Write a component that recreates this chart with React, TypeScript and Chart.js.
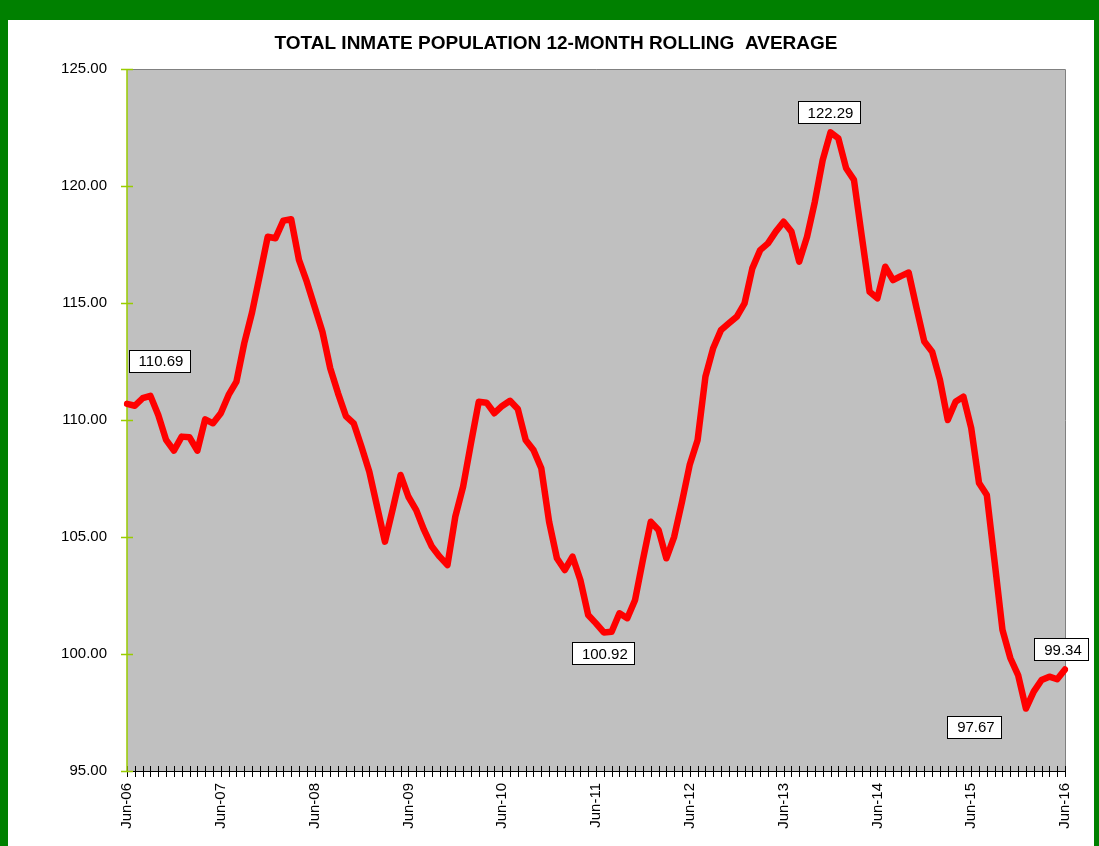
import React, { useEffect, useRef } from "react";
import { Chart, registerables } from "chart.js";

Chart.register(...registerables);

const TITLE = "TOTAL INMATE POPULATION 12-MONTH ROLLING  AVERAGE";
const MONTH_NAMES = ["Jun", "Jul", "Aug", "Sep", "Oct", "Nov", "Dec", "Jan", "Feb", "Mar", "Apr", "May"];
const START_YEAR = 2006;
const MONTH_COUNT = 121;

// 12-month rolling average, Jun-06 .. Jun-16
const rollingAverage = [
  110.69, 110.61, 110.93, 111.03, 110.21, 109.15, 108.69, 109.29, 109.26, 108.69, 110.03, 109.86,
  110.29, 111.07, 111.64, 113.28, 114.6, 116.2, 117.83, 117.77, 118.52, 118.58, 116.84, 115.91,
  114.84, 113.77, 112.21, 111.14, 110.17, 109.86, 108.86, 107.79, 106.29, 104.8, 106.2, 107.65,
  106.72, 106.15, 105.3, 104.59, 104.16, 103.8, 105.87, 107.15, 109.0, 110.78, 110.74, 110.29,
  110.6, 110.82, 110.47, 109.15, 108.72, 107.94, 105.65, 104.09, 103.59, 104.16, 103.16, 101.67,
  101.31, 100.92, 100.95, 101.74, 101.53, 102.31, 104.02, 105.65, 105.3, 104.09, 105.01, 106.5,
  108.1, 109.15, 111.85, 113.08, 113.85, 114.13, 114.41, 114.98, 116.48, 117.26, 117.55, 118.05,
  118.47, 118.05, 116.77, 117.83, 119.33, 121.11, 122.29, 122.04, 120.76, 120.26, 117.86, 115.48,
  115.2, 116.55, 115.98, 116.15, 116.3, 114.8, 113.35, 112.92, 111.71, 110.0, 110.78, 111.0,
  109.66, 107.31, 106.79, 103.93, 101.03, 99.83, 99.1, 97.67, 98.39, 98.89, 99.03, 98.92,
  99.34,
];

const Y_MIN = 95;
const Y_MAX = 125;
const Y_STEP = 5;

// indices of points that carry a value label
const labelIndices = [0, 61, 90, 115, 120];
// label box centre offsets (px) from the point
const labelOffsets: [number, number][] = [
  [32, -43],
  [-1, 21],
  [-2, -20],
  [-52, 18],
  [-4, -20],
];

function buildCategories(): string[] {
  const out: string[] = [];
  for (let i = 0; i < MONTH_COUNT; i++) {
    const name = MONTH_NAMES[i % 12];
    const year = START_YEAR + Math.floor((i + 5) / 12);
    out.push(name + "-" + String(year % 100).padStart(2, "0"));
  }
  return out;
}

const categories = buildCategories();

const FONT = "'Liberation Sans', Arial, sans-serif";

const decorPlugin = {
  id: "decor",
  beforeDatasetsDraw(chart: any) {
    const { ctx, chartArea } = chart;
    const { left, top, right, bottom } = chartArea;
    ctx.save();
    ctx.fillStyle = "#C0C0C0";
    ctx.fillRect(left, top, right - left, bottom - top);
    ctx.strokeStyle = "#808080";
    ctx.lineWidth = 1;
    ctx.beginPath();
    ctx.moveTo(left, top + 0.5);
    ctx.lineTo(right + 0.5, top + 0.5);
    ctx.lineTo(right + 0.5, bottom);
    ctx.stroke();
    // x axis
    const xs = chart.scales.x;
    ctx.strokeStyle = "#000000";
    ctx.beginPath();
    ctx.moveTo(left, bottom + 0.5);
    ctx.lineTo(right + 1, bottom + 0.5);
    for (let i = 0; i < xs.ticks.length; i++) {
      const px = Math.round(xs.getPixelForTick(i)) + 0.5;
      ctx.moveTo(px, bottom - 5);
      ctx.lineTo(px, bottom + 6);
    }
    ctx.stroke();
    // y axis
    const ys = chart.scales.y;
    ctx.strokeStyle = "#99CC00";
    ctx.lineWidth = 1.5;
    ctx.beginPath();
    ctx.moveTo(left, top);
    ctx.lineTo(left, bottom);
    for (let i = 0; i < ys.ticks.length; i++) {
      const py = Math.round(ys.getPixelForTick(i)) + 0.5;
      ctx.moveTo(left - 6, py);
      ctx.lineTo(left + 6, py);
    }
    ctx.stroke();
    // title
    ctx.fillStyle = "#000000";
    ctx.font = "bold 19px " + FONT;
    ctx.textAlign = "center";
    ctx.textBaseline = "middle";
    ctx.fillText(TITLE, (left + right) / 2 - 40, 24);
    ctx.restore();
  },
  afterDatasetsDraw(chart: any) {
    const { ctx } = chart;
    const meta = chart.getDatasetMeta(0);
    ctx.save();
    ctx.font = "15px " + FONT;
    ctx.textBaseline = "middle";
    ctx.textAlign = "center";
    labelIndices.forEach((idx, k) => {
      const pt = meta.data[idx];
      const text = rollingAverage[idx].toFixed(2);
      const tw = ctx.measureText(text).width;
      const w = Math.round(tw + 16);
      const h = 22;
      const cx = pt.x + labelOffsets[k][0];
      const cy = pt.y + labelOffsets[k][1];
      const x0 = Math.round(cx - w / 2) + 0.5;
      const y0 = Math.round(cy - h / 2) + 0.5;
      ctx.fillStyle = "#FFFFFF";
      ctx.fillRect(x0, y0, w, h);
      ctx.strokeStyle = "#000000";
      ctx.lineWidth = 1;
      ctx.strokeRect(x0, y0, w, h);
      ctx.fillStyle = "#000000";
      ctx.fillText(text, cx + 2, cy + 1);
    });
    ctx.restore();
  },
};

export default function App() {
  const canvasRef = useRef<HTMLCanvasElement | null>(null);

  useEffect(() => {
    const canvas = canvasRef.current;
    if (!canvas) return;
    const chart = new Chart(canvas, {
      type: "line",
      data: {
        labels: categories,
        datasets: [
          {
            data: rollingAverage,
            borderColor: "#FF0000",
            borderWidth: 6.5,
            pointRadius: 0,
            tension: 0,
            fill: false,
            borderJoinStyle: "round",
            borderCapStyle: "round",
          },
        ],
      },
      options: {
        animation: false,
        responsive: false,
        maintainAspectRatio: false,
        layout: { padding: { left: 0, right: 29, top: 49, bottom: 0 } },
        plugins: {
          legend: { display: false },
          tooltip: { enabled: false },
          title: { display: false },
        },
        scales: {
          x: {
            type: "category",
            offset: false,
            grid: { display: false },
            border: { display: false },
            afterFit(scale: any) {
              scale.height = 75;
            },
            ticks: {
              autoSkip: false,
              minRotation: 90,
              maxRotation: 90,
              padding: 4,
              color: "#000000",
              font: { family: FONT, size: 15 },
              callback: (_v: any, i: number) => (i % 12 === 0 ? categories[i] : ""),
            },
          },
          y: {
            min: Y_MIN,
            max: Y_MAX,
            grid: { display: false },
            border: { display: false },
            afterFit(scale: any) {
              scale.width = 119;
            },
            ticks: {
              stepSize: Y_STEP,
              padding: 12,
              color: "#000000",
              font: { family: FONT, size: 15 },
              callback: (v: any) => Number(v).toFixed(2),
            },
          },
        },
      },
      plugins: [decorPlugin],
    });
    return () => chart.destroy();
  }, []);

  return (
    <div
      style={{
        position: "fixed",
        left: 0,
        top: 0,
        width: 1099,
        height: 846,
        background: "#008000",
        overflow: "hidden",
      }}
    >
      <div
        style={{
          position: "absolute",
          left: 8,
          top: 20,
          width: 1086,
          height: 826,
          background: "#FFFFFF",
        }}
      >
        <canvas ref={canvasRef} width={1086} height={826} style={{ display: "block" }} />
      </div>
    </div>
  );
}
